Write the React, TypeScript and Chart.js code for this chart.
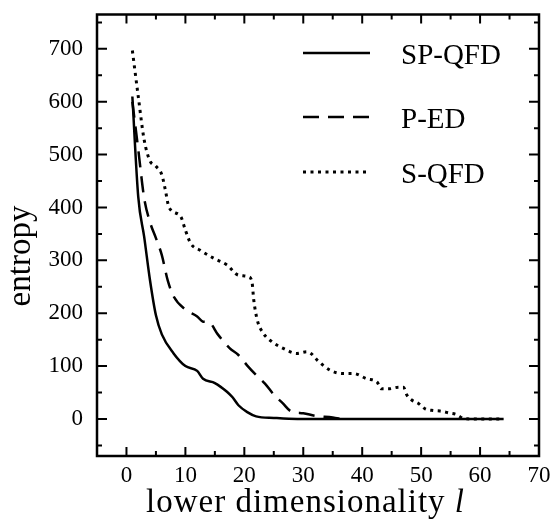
import React, { useEffect, useRef } from "react";
import { Chart, registerables } from "chart.js";

Chart.register(...registerables);

// ---- data ----
const SP_QFD_X = [1, 2, 3, 4, 5, 6, 8, 10, 12, 13, 15, 17, 18, 19, 20.5, 22, 25, 29, 64];
const SP_QFD_Y = [610, 420, 345, 262, 196, 160, 124, 100, 91, 76, 68, 52, 41, 26, 13, 5, 2, 0, 0];

const P_ED_X = [1, 2, 3, 4, 5, 6, 7, 8, 10, 12, 13, 14, 15.5, 17.5, 19, 20.5, 22, 23.5, 25, 26.5, 28, 30, 32, 35, 36.5];
const P_ED_Y = [600, 510, 418, 372, 342, 310, 262, 232, 207, 194, 184, 183, 160, 134, 121, 101, 83, 67, 46, 30, 14, 11, 6, 3, 0];

const S_QFD_X = [1, 2, 3, 4, 5, 6, 6.6, 7.2, 9.2, 10, 10.9, 12.5, 14.8, 17.1, 19, 20.7, 21.3, 21.6, 22.2, 23.3, 24.7, 26.7, 28.9, 30.6, 31.3, 32.4, 34.6, 36.8, 38.5, 40.8, 42.5, 43.3, 44.5, 46.2, 47, 47.6, 48.4, 49.6, 50.7, 52.1, 53.2, 54.9, 56, 57.2, 59, 64];
const S_QFD_Y = [697, 610, 528, 488, 478, 462, 433, 401, 383, 357, 332, 319, 304, 291, 272, 269, 259, 225, 187, 161, 146, 133, 124, 127, 124, 111, 92, 86, 86, 76, 70, 57, 57, 60, 60, 45, 36, 29, 19, 16, 15, 11, 8.5, 1, 0, 0];

const SERIES_LABELS = ["SP-QFD", "P-ED", "S-QFD"];

const X_TICKS = [0, 10, 20, 30, 40, 50, 60, 70];
const X_MINOR = [5, 15, 25, 35, 45, 55, 65];
const Y_TICKS = [0, 100, 200, 300, 400, 500, 600, 700];
const Y_MINOR = [-50, 50, 150, 250, 350, 450, 550, 650, 750];

const X_TITLE = "lower dimensionality ";
const X_TITLE_VAR = "l";
const Y_TITLE = "entropy";

const FONT = "'Liberation Serif', 'Times New Roman', serif";

const pts = (xs: number[], ys: number[]) => xs.map((x, i) => ({ x, y: ys[i] }));

const framePlugin = {
  id: "framePlugin",
  afterDatasetsDraw(chart: any) {
    const { ctx, chartArea: a, scales } = chart;
    const xs = scales.x;
    const ys = scales.y;
    ctx.save();
    ctx.strokeStyle = "#000";
    ctx.lineCap = "butt";
    // frame
    ctx.lineWidth = 2.5;
    ctx.strokeRect(a.left, a.top, a.right - a.left, a.bottom - a.top);
    // inward ticks
    ctx.lineWidth = 2;
    const xTick = (v: number, len: number) => {
      const p = xs.getPixelForValue(v);
      ctx.beginPath();
      ctx.moveTo(p, a.bottom);
      ctx.lineTo(p, a.bottom - len);
      ctx.moveTo(p, a.top);
      ctx.lineTo(p, a.top + len);
      ctx.stroke();
    };
    const yTick = (v: number, len: number) => {
      const p = ys.getPixelForValue(v);
      ctx.beginPath();
      ctx.moveTo(a.left, p);
      ctx.lineTo(a.left + len, p);
      ctx.moveTo(a.right, p);
      ctx.lineTo(a.right - len, p);
      ctx.stroke();
    };
    X_TICKS.forEach((v) => xTick(v, 9));
    X_MINOR.forEach((v) => xTick(v, 5));
    Y_TICKS.forEach((v) => yTick(v, 10));
    Y_MINOR.forEach((v) => yTick(v, 5));

    // legend
    const legendY = [53, 117, 172];
    chart.data.datasets.forEach((ds: any, i: number) => {
      ctx.save();
      ctx.strokeStyle = "#000";
      ctx.lineWidth = ds.borderWidth;
      ctx.setLineDash(ds.borderDash || []);
      ctx.beginPath();
      ctx.moveTo(303, legendY[i]);
      ctx.lineTo(370, legendY[i]);
      ctx.stroke();
      ctx.restore();
      ctx.fillStyle = "#000";
      ctx.font = `29px ${FONT}`;
      ctx.textAlign = "left";
      ctx.textBaseline = "alphabetic";
      ctx.fillText(ds.label, 401, legendY[i] + 10.5);
    });

    // x title
    ctx.fillStyle = "#000";
    ctx.textBaseline = "alphabetic";
    ctx.textAlign = "left";
    (ctx as any).letterSpacing = "1px";
    ctx.font = `33px ${FONT}`;
    const w1 = ctx.measureText(X_TITLE).width;
    ctx.font = `italic 33px ${FONT}`;
    const w2 = ctx.measureText(X_TITLE_VAR).width;
    const x0 = 305.5 - (w1 + w2) / 2;
    ctx.font = `33px ${FONT}`;
    ctx.fillText(X_TITLE, x0, 512);
    ctx.font = `italic 33px ${FONT}`;
    ctx.fillText(X_TITLE_VAR, x0 + w1, 512);
    (ctx as any).letterSpacing = "0px";

    // y title
    ctx.save();
    ctx.translate(30, 256);
    ctx.rotate(-Math.PI / 2);
    ctx.font = `33px ${FONT}`;
    ctx.textAlign = "center";
    ctx.textBaseline = "alphabetic";
    ctx.fillText(Y_TITLE, 0, 0);
    ctx.restore();

    ctx.restore();
  },
};

export default function App() {
  const ref = useRef<HTMLCanvasElement>(null);
  useEffect(() => {
    if (!ref.current) return;
    const tickFont = { family: FONT, size: 23 };
    const chart = new Chart(ref.current, {
      type: "line",
      data: {
        datasets: [
          {
            label: SERIES_LABELS[0],
            data: pts(SP_QFD_X, SP_QFD_Y),
            borderColor: "#000",
            borderWidth: 2.5,
            borderDash: [],
            pointRadius: 0,
            cubicInterpolationMode: "monotone",
            fill: false,
          },
          {
            label: SERIES_LABELS[1],
            data: pts(P_ED_X, P_ED_Y),
            borderColor: "#000",
            borderWidth: 2.5,
            borderDash: [16, 9],
            pointRadius: 0,
            cubicInterpolationMode: "monotone",
            fill: false,
          },
          {
            label: SERIES_LABELS[2],
            data: pts(S_QFD_X, S_QFD_Y),
            borderColor: "#000",
            borderWidth: 3,
            borderDash: [3, 4.5],
            pointRadius: 0,
            cubicInterpolationMode: "monotone",
            fill: false,
          },
        ],
      },
      options: {
        animation: false,
        responsive: false,
        devicePixelRatio: 1,
        layout: { padding: { top: 14.5, right: 13, left: 0, bottom: 0 } },
        plugins: { legend: { display: false }, tooltip: { enabled: false } },
        scales: {
          x: {
            type: "linear",
            min: -5,
            max: 70,
            afterBuildTicks: (s: any) => {
              s.ticks = X_TICKS.map((v) => ({ value: v }));
            },
            afterFit: (s: any) => {
              s.height = 64;
              s.paddingLeft = 0;
              s.paddingRight = 0;
            },
            grid: { display: false, drawTicks: false },
            border: { display: false },
            ticks: { font: tickFont, color: "#000", padding: 6, maxRotation: 0, autoSkip: false },
          },
          y: {
            type: "linear",
            min: -70,
            max: 765,
            afterBuildTicks: (s: any) => {
              s.ticks = Y_TICKS.map((v) => ({ value: v }));
            },
            afterFit: (s: any) => {
              s.width = 97;
              s.paddingTop = 0;
              s.paddingBottom = 0;
            },
            grid: { display: false, drawTicks: false },
            border: { display: false },
            ticks: { font: tickFont, color: "#000", padding: 14, autoSkip: false },
          },
        },
      },
      plugins: [framePlugin],
    } as any);
    return () => chart.destroy();
  }, []);
  return (
    <div style={{ position: "fixed", left: 0, top: 0, width: 552, height: 520, background: "#fff" }}>
      <canvas ref={ref} width={552} height={520} style={{ display: "block", width: 552, height: 520 }} />
    </div>
  );
}
